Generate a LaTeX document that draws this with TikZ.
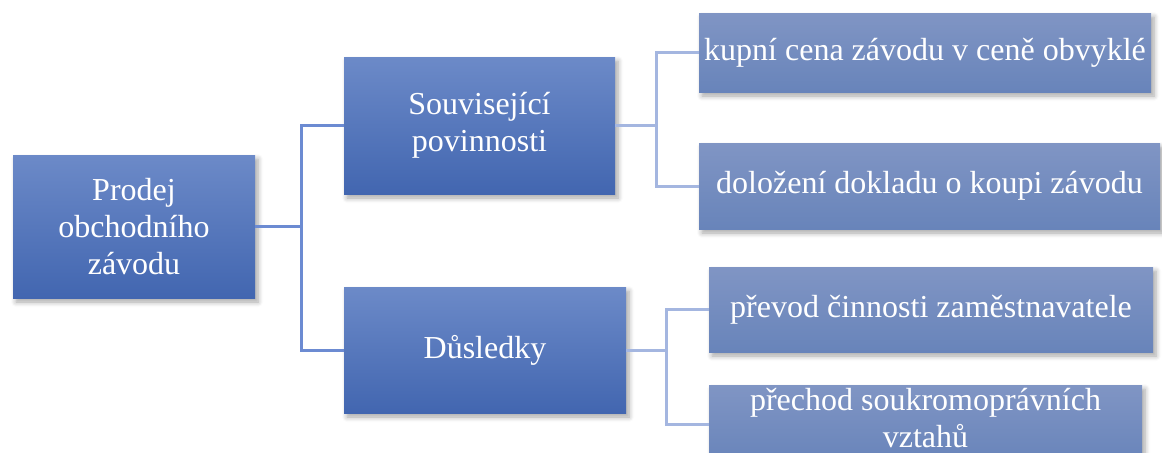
\documentclass[tikz,border=0pt]{standalone}
\usepackage{fontspec}
\setmainfont{Liberation Serif}
\usepackage{tikz}
\usetikzlibrary{shadows.blur}

\definecolor{maintop}{RGB}{108,138,200}
\definecolor{mainbot}{RGB}{66,102,176}
\definecolor{leaftop}{RGB}{128,149,196}
\definecolor{leafbot}{RGB}{104,132,186}
\definecolor{linkdark}{RGB}{108,139,210}
\definecolor{linklight}{RGB}{164,182,224}

\begin{document}
\begin{tikzpicture}[x=0.5pt, y=-0.5pt,
box/.style={inner sep=0pt, align=center, text=white,
    font=\fontsize{16}{18.5}\selectfont,
    blur shadow={shadow xshift=1.5pt, shadow yshift=-2pt, shadow blur radius=2.5pt,
    shadow blur steps=6, shadow opacity=35}},
main/.style={box, top color=maintop, bottom color=mainbot},
leaf/.style={box, top color=leaftop, bottom color=leafbot},
link/.style={draw=linkdark, line width=1.5pt},
sublink/.style={draw=linklight, line width=1.5pt}]

\useasboundingbox (0,0) rectangle (1162,452);

% MAIN BOXES
\node[main, minimum width=121pt, minimum height=71.5pt] (prodej) at (134,226.5) {Prodej\\obchodního\\závodu};
\node[main, minimum width=135.5pt, minimum height=68.5pt] (souvis) at (479.5,125.5) {Související\\povinnosti};
\node[main, minimum width=141pt, minimum height=63pt] (dusl) at (485,350) {Důsledky};

% leaves
\node[leaf, minimum width=226pt, minimum height=39.5pt] (cena) at (925,52.5) {kupní cena závodu v ceně obvyklé};
\node[leaf, minimum width=230.5pt, minimum height=43pt] (doklad) at (929.5,186) {doložení dokladu o koupi závodu};
\node[leaf, minimum width=222pt, minimum height=42.5pt] (prevod) at (931,309.5) {převod činnosti zaměstnavatele};
\node[leaf, minimum width=216.5pt, minimum height=39pt, text depth=6pt] (prechod) at (925.5,424) {přechod soukromoprávních\\vztahů};

% connectors
\draw[link] (prodej.east) -- ++(46,0) coordinate (hub);
\draw[link] (souvis.west) -| (hub) |- (dusl.west);

\draw[sublink] (souvis.east) -- ++(41,0) coordinate (hubA);
\draw[sublink] (cena.west) -| (hubA) |- (doklad.west);

\draw[sublink] (dusl.east) -- ++(40,0) coordinate (hubB);
\draw[sublink] (prevod.west) -| (hubB) |- (prechod.west);

\end{tikzpicture}
\end{document}
